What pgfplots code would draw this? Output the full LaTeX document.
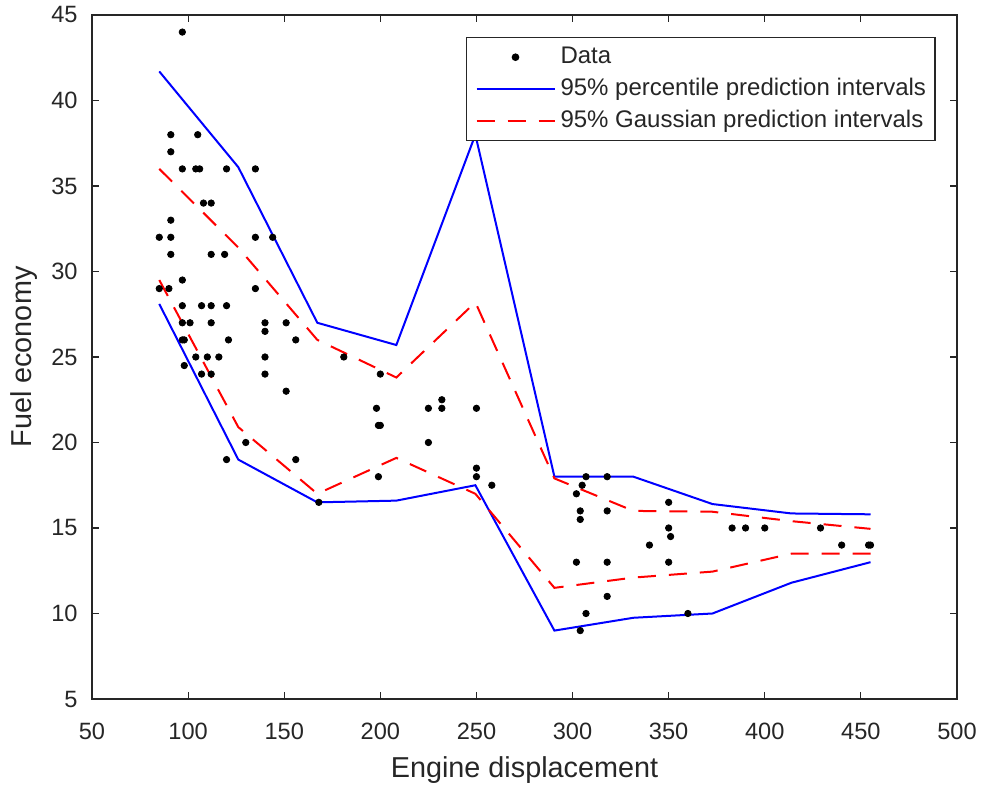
\documentclass[border=0pt]{standalone}
\usepackage{fontspec}
\setmainfont{Liberation Sans}
\usepackage{pgfplots}
\usepackage{pgfplotstable}
\pgfplotsset{compat=1.18}
\definecolor{axgray}{RGB}{38,38,38}
\pgfplotsset{
  mylegline/.style={legend image code/.code={\draw[##1] (0pt,0pt) -- (39pt,0pt);}},
  mylegdot/.style={legend image code/.code={\draw[##1] plot coordinates {(19.5pt,0pt)};}},
}

\pgfplotstableread{
x y
97 44
91 38
105 38
91 37
97 36
104 36
106 36
120 36
135 36
108 34
112 34
91 33
85 32
91 32
135 32
144 32
91 31
112 31
119 31
97 29.5
85 29
90 29
135 29
97 28
107 28
112 28
120 28
97 27
101 27
112 27
140 27
151 27
140 26.5
97 26
98 26
121 26
156 26
104 25
110 25
116 25
140 25
98 24.5
107 24
112 24
140 24
151 23
130 20
120 19
156 19
181 25
200 24
198 22
199 21
200 21
225 22
232 22.5
232 22
250 22
225 20
199 18
168 16.5
250 18.5
250 18
258 17.5
307 18
318 18
305 17.5
302 17
304 16
304 15.5
318 16
350 16.5
350 15
351 14.5
340 14
383 15
390 15
400 15
429 15
440 14
454 14
455 14
302 13
318 13
350 13
318 11
307 10
304 9
360 10
}\cardata

\pgfplotstableread{
x bup blo rup rlo
85 41.7 28.1 36.0 29.5
126.11 36.1 19.0 31.4 20.9
167.22 27.0 16.5 26.0 17.0
208.33 25.7 16.6 23.8 19.1
249.44 38.0 17.5 28.2 17.0
290.56 18.0 9.0 17.9 11.5
331.67 18.0 9.75 16.0 12.1
372.78 16.4 10.0 15.95 12.45
413.89 15.85 11.8 15.4 13.5
455 15.8 13.0 14.95 13.5
}\intervals

\begin{document}
\begin{tikzpicture}
\begin{axis}[
  scale only axis, width=432.5pt, height=342pt,
  xmin=50, xmax=500, ymin=5, ymax=45,
  xtick={50,100,...,500}, ytick={5,10,...,45},
  tick align=inside, major tick length=3.5pt,
  axis line style={axgray, line width=0.6pt},
  tick style={axgray, line width=0.6pt},
  /pgf/number format/assume math mode=true,
  ticklabel style={font=\fontsize{11.8}{14}\selectfont, text=axgray},
  xticklabel style={anchor=center, yshift=-16pt, inner sep=0pt},
  yticklabel style={anchor=east, xshift=-7pt, inner sep=0pt},
  xlabel={Engine displacement}, ylabel={Fuel economy},
  label style={font=\fontsize{14.4}{17}\selectfont, text=axgray},
  xlabel style={at={(axis description cs:0.5,-0.1045)}, anchor=center},
  ylabel style={at={(axis description cs:-0.0785,0.5)}, anchor=center},
  legend style={at={(0.9753,0.9684)}, anchor=north east, draw=axgray, line width=0.6pt,
    font=\fontsize{12}{14}\selectfont, text=axgray, inner xsep=4.5pt, inner ysep=4.4pt,
    nodes={inner sep=0pt, text height=8.8pt, text depth=2.4pt},
    row sep=4.65pt, column sep=2.5pt},
  legend cell align=left,
  mylegline,
]
\addplot[only marks, mark=*, mark size=1.6pt, black, mylegdot]
  table[x=x, y=y] {\cardata};
\addlegendentry{Data}
\addplot[blue, line width=1pt] table[x=x, y=bup] {\intervals};
\addlegendentry{95\% percentile prediction intervals}
\addplot[red, line width=1pt, dash pattern=on 9pt off 6.5pt] table[x=x, y=rup] {\intervals};
\addlegendentry{95\% Gaussian prediction intervals}
\addplot[blue, line width=1pt, forget plot] table[x=x, y=blo] {\intervals};
\addplot[red, line width=1pt, dash pattern=on 9pt off 6.5pt, forget plot] table[x=x, y=rlo] {\intervals};
\coordinate (bl) at (rel axis cs:0,0);
\coordinate (tr) at (rel axis cs:1,1);
\end{axis}
\pgfresetboundingbox
\path[use as bounding box] ([shift={(-46pt,-43pt)}]bl) rectangle ([shift={(13.5pt,7.5pt)}]tr);
\end{tikzpicture}
\end{document}
